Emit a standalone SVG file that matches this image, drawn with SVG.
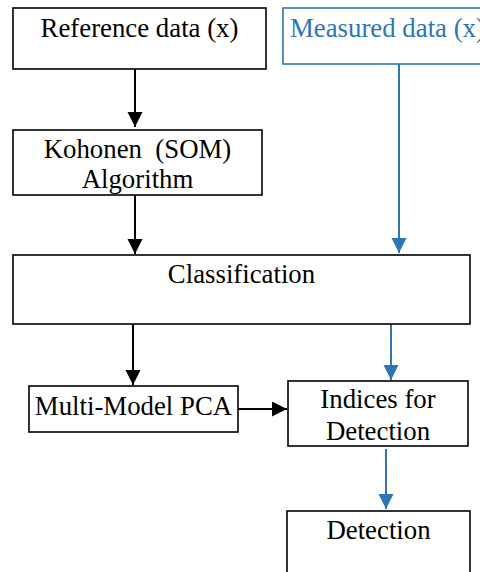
<svg xmlns="http://www.w3.org/2000/svg" width="480" height="572" viewBox="0 0 480 572">
<style>
.box{fill:#fff;stroke:#000;stroke-width:1.6}
.bbox{fill:#fff;stroke:#2E75B6;stroke-width:1.6}
.t{font-family:"Liberation Serif","Times New Roman",serif;font-size:26.8px;fill:#000;text-anchor:middle}
.bt{fill:#2E75B6;text-anchor:start}
.k{stroke:#000;stroke-width:2;fill:none}
.b{stroke:#2E75B6;stroke-width:2;fill:none}
</style>
<defs>
<marker id="ak" markerUnits="userSpaceOnUse" markerWidth="16" markerHeight="16" refX="15" refY="7.5" orient="auto"><path d="M0,0 L15,7.5 L0,15 Z" fill="#000"/></marker>
<marker id="ab" markerUnits="userSpaceOnUse" markerWidth="16" markerHeight="16" refX="15" refY="7.5" orient="auto"><path d="M0,0 L15,7.5 L0,15 Z" fill="#2E75B6"/></marker>
</defs>
<g id="connectors">
<line class="k" x1="135" y1="69" x2="135" y2="127" marker-end="url(#ak)"/>
<line class="k" x1="135" y1="195" x2="135" y2="254" marker-end="url(#ak)"/>
<line class="k" x1="133" y1="324" x2="133" y2="385" marker-end="url(#ak)"/>
<line class="k" x1="238" y1="409" x2="287" y2="409" marker-end="url(#ak)"/>
<line class="b" x1="399" y1="64" x2="399" y2="253" marker-end="url(#ab)"/>
<line class="b" x1="391" y1="324" x2="391" y2="380" marker-end="url(#ab)"/>
<line class="b" x1="386" y1="449" x2="386" y2="509" marker-end="url(#ab)"/>
</g>
<g id="reference">
<rect class="box" x="13" y="8" width="253" height="61"/>
<text class="t" x="139.5" y="37">Reference data (x)</text>
</g>
<g id="measured">
<rect class="bbox" x="283" y="8" width="210" height="56"/>
<text class="t bt" x="290" y="37">Measured data (x)</text>
</g>
<g id="kohonen">
<rect class="box" x="13" y="130" width="249" height="65"/>
<text class="t" x="137.5" y="158" xml:space="preserve">Kohonen  (SOM)</text>
<text class="t" x="137.5" y="188">Algorithm</text>
</g>
<g id="classification">
<rect class="box" x="13" y="255" width="457" height="69"/>
<text class="t" x="241.5" y="283">Classification</text>
</g>
<g id="mpca">
<rect class="box" x="29" y="386" width="209" height="46"/>
<text class="t" x="133.5" y="415">Multi-Model PCA</text>
</g>
<g id="indices">
<rect class="box" x="288" y="381" width="180" height="65"/>
<text class="t" x="378" y="408">Indices for</text>
<text class="t" x="378" y="440">Detection</text>
</g>
<g id="detection">
<rect class="box" x="287" y="511" width="183" height="70"/>
<text class="t" x="378.5" y="539">Detection</text>
</g>
</svg>
